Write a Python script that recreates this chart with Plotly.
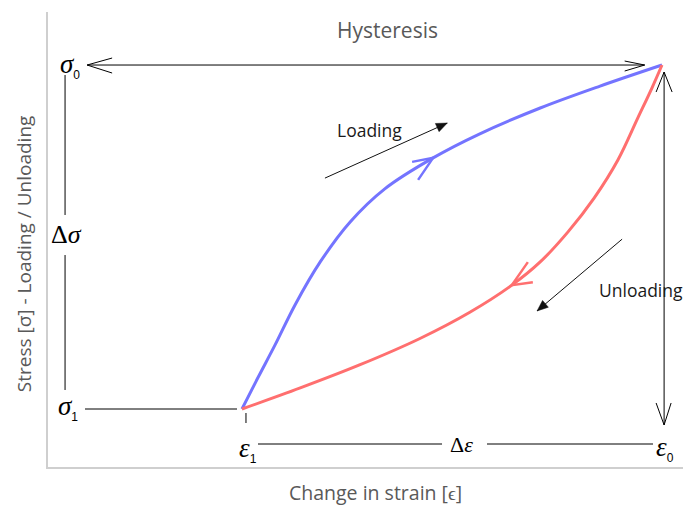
import plotly.graph_objects as go

# ---- data (strain / stress, normalised units) ----
eps1, eps0 = 0.2, 1.0
sig1, sig0 = 0.2, 1.0

load_strain = [0.200, 0.230, 0.263, 0.301, 0.349, 0.406, 0.472, 0.564, 0.653, 0.768, 0.882, 1.000]
load_stress = [0.200, 0.272, 0.349, 0.442, 0.542, 0.635, 0.712, 0.784, 0.840, 0.900, 0.951, 1.000]

unload_strain = [1.000, 0.981, 0.954, 0.916, 0.871, 0.821, 0.768, 0.714, 0.634, 0.539, 0.425, 0.311, 0.200]
unload_stress = [1.000, 0.947, 0.877, 0.779, 0.691, 0.612, 0.542, 0.488, 0.425, 0.364, 0.303, 0.249, 0.200]

# arrow markers on the curves (index of point on curve)
load_arrow_idx = 7
unload_arrow_idx = 7

# pointer arrows next to the curves: (tail, tip) in strain/stress units
loading_ptr = [(0.358, 0.737), (0.591, 0.865)]
unloading_ptr = [(0.924, 0.595), (0.762, 0.428)]

BLUE = "#7474ff"
RED = "#ff6f6f"
GRAY = "#595959"
MATH_FONT = "Liberation Serif"
TXT_FONT = "Open Sans"

fig = go.Figure()

fig.add_trace(go.Scatter(x=load_strain, y=load_stress, mode="lines",
                         line=dict(color=BLUE, width=3, shape="spline", smoothing=1.0),
                         hoverinfo="skip", showlegend=False))
fig.add_trace(go.Scatter(x=unload_strain, y=unload_stress, mode="lines",
                         line=dict(color=RED, width=3, shape="spline", smoothing=1.0),
                         hoverinfo="skip", showlegend=False))

shapes = []
annotations = []

def seg(x0, y0, x1, y1, color="black", width=1):
    shapes.append(dict(type="line", xref="x", yref="y", x0=x0, y0=y0, x1=x1, y1=y1,
                       line=dict(color=color, width=width)))

def glyph(x, y, path, color="black", width=1, fill="rgba(0,0,0,0)"):
    # path given in pixel offsets (y up) around an anchor in data units
    shapes.append(dict(type="path", xref="x", yref="y", xsizemode="pixel", ysizemode="pixel",
                       xanchor=x, yanchor=y, path=path, fillcolor=fill,
                       line=dict(color=color, width=width)))

def label(x, y, text, size=27, xanchor="center", yshift=0):
    annotations.append(dict(x=x, y=y, xref="x", yref="y", text=text, showarrow=False,
                            xanchor=xanchor, yanchor="middle", yshift=yshift,
                            font=dict(family=MATH_FONT, size=size, color="black")))

LAB_X = -0.137   # column of stress labels
TOP_L = -0.095   # left tip of top arrow
TOP_R = eps0 - 0.033
RX = eps0 + 0.004
BOT_Y = 0.1186   # strain dimension line

# top horizontal dimension line sigma0
seg(TOP_L, sig0, TOP_R, sig0)
glyph(TOP_L, sig0, "M25,7 L0,0 L25,-8")
glyph(TOP_R, sig0, "M-20,4 L0,0 L-20,-6")

# right vertical dimension line
seg(RX, 0.9837, RX, 0.1628)
glyph(RX, 0.9837, "M-8,-20 L0,0 L8,-20")
glyph(RX, 0.1628, "M-8,22 L0,0 L7,22")

# left vertical (delta sigma)
seg(LAB_X, 0.9767, LAB_X, 0.6512)
seg(LAB_X, 0.5581, LAB_X, 0.2442)

# sigma1 horizontal
seg(-0.099, sig1, eps1 - 0.0095, sig1)
# tick under eps1
seg(eps1 + 0.0076, 0.1907, eps1 + 0.0076, 0.1674)
# bottom delta epsilon line
seg(0.2305, BOT_Y, 0.581, BOT_Y)
seg(0.6667, BOT_Y, 0.9829, BOT_Y)

SUB = '<sub><span style="font-family:Liberation Sans;font-size:12px">{}</span></sub>'
label(-0.128, sig0, "<i>σ</i>" + SUB.format("0"))
label(-0.1305, sig1, "<i>σ</i>" + SUB.format("1"), yshift=2)
label(0.2105, 0.1047, "<i>ε</i>" + SUB.format("1"))
label(1.0048, 0.1093, "<i>ε</i>" + SUB.format("0"))
label(-0.1352, 0.6047, "Δ<i>σ</i>", size=26)
label(0.619, BOT_Y, "Δ<i>ε</i>", size=22)

# chevrons on curves
glyph(load_strain[load_arrow_idx], load_stress[load_arrow_idx],
      "M-21,-4 L0,0 L-15,-22", color=BLUE, width=2.5)
glyph(unload_strain[unload_arrow_idx], unload_stress[unload_arrow_idx],
      "M16,23 L0,0 L21,3", color=RED, width=2.5)

# Loading / Unloading pointer arrows
(tx, ty), (hx, hy) = loading_ptr
seg(tx, ty, hx, hy, color="#111111")
glyph(hx, hy, "M0,0 L-11.9,-0.4 L-8.2,-8.6 Z", color="#111111", width=0.5, fill="#111111")
(tx, ty), (hx, hy) = unloading_ptr
seg(tx, ty, hx, hy, color="#111111")
glyph(hx, hy, "M0,0 L11.3,3.7 L5.5,10.5 Z", color="#111111", width=0.5, fill="#111111")

annotations.append(dict(x=0.4438, y=0.8488, xref="x", yref="y", text="Loading",
                        showarrow=False, font=dict(family=TXT_FONT, size=17.5, color="#1a1a1a")))
annotations.append(dict(x=0.876, y=0.4767, xref="x", yref="y", text="Unloading",
                        showarrow=False, xanchor="left",
                        font=dict(family=TXT_FONT, size=17.5, color="#1a1a1a")))

# titles
annotations.append(dict(x=0.534, y=0.9604, xref="paper", yref="paper", text="Hysteresis",
                        showarrow=False, xanchor="center", yanchor="middle",
                        font=dict(family=TXT_FONT, size=21, color=GRAY)))
annotations.append(dict(x=0.515, y=-0.0571, xref="paper", yref="paper",
                        text="Change in strain [ϵ]", showarrow=False,
                        xanchor="center", yanchor="middle",
                        font=dict(family=TXT_FONT, size=19.5, color=GRAY)))
annotations.append(dict(x=-0.0378, y=0.470, xref="paper", yref="paper",
                        text="Stress [σ] - Loading / Unloading", showarrow=False,
                        textangle=-90, xanchor="center", yanchor="middle",
                        font=dict(family=TXT_FONT, size=19, color=GRAY)))

fig.update_layout(
    width=683, height=507,
    margin=dict(l=48, r=0, t=12, b=40),
    paper_bgcolor="white", plot_bgcolor="white",
    shapes=shapes, annotations=annotations,
    showlegend=False,
    xaxis=dict(range=[-0.1695, 1.04], showgrid=False, zeroline=False, showticklabels=False,
               ticks="", showline=True, linecolor="#cfcfcf", linewidth=1.5, fixedrange=True),
    yaxis=dict(range=[0.0651, 1.1233], showgrid=False, zeroline=False, showticklabels=False,
               ticks="", showline=True, linecolor="#cfcfcf", linewidth=1.5, fixedrange=True),
)

fig.write_html("out.html", config={"displayModeBar": False})
